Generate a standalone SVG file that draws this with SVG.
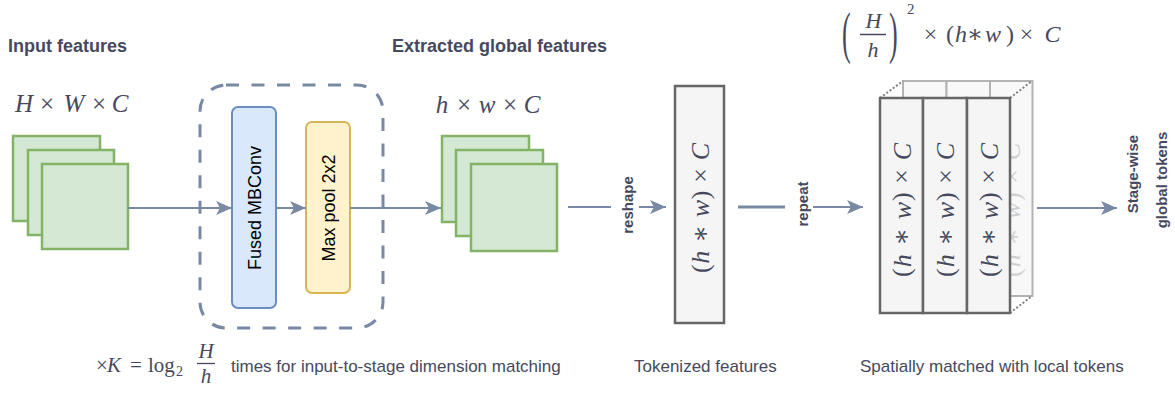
<svg xmlns="http://www.w3.org/2000/svg" width="1175" height="394" viewBox="0 0 1175 394">
<defs>
<style>
.conn{stroke:#788AA3;stroke-width:2;fill:none}
.lbl{font-family:"Liberation Sans",Arial,sans-serif;fill:#46495D}
.title{font-family:"Liberation Sans",Arial,sans-serif;fill:#46495D;font-weight:bold;font-size:18px}
.math{font-family:"Liberation Serif","DejaVu Serif",serif;fill:#46495D}
.it{font-style:italic}
.feat{fill:#d5e8d4;stroke:#82b366;stroke-width:2.5}
.tok{fill:#f5f5f5;stroke:#666666;stroke-width:2.5}
.tokback{fill:#f8f8f8;stroke:#b3b3b3;stroke-width:2}
.dots{stroke:#808080;stroke-width:2;stroke-dasharray:2 2;fill:none}
</style>
<marker id="arr" viewBox="0 0 16 14" refX="16" refY="7" markerWidth="16" markerHeight="14" markerUnits="userSpaceOnUse" orient="auto">
<path d="M0,0 L16,7 L0,14 L4,7 Z" fill="#788AA3"/>
</marker>
</defs>
<rect width="1175" height="394" fill="#ffffff"/>

<g id="titles">
<text class="title" x="8" y="52">Input features</text>
<text class="title" x="392" y="52">Extracted global features</text>
</g>

<g id="input-features">
<rect class="feat" x="13" y="136" width="87" height="85"/>
<rect class="feat" x="28" y="150" width="86" height="85"/>
<rect class="feat" x="42" y="164" width="86" height="85"/>
<text class="math" font-size="25" y="112" text-anchor="middle"><tspan class="it" x="24">H</tspan><tspan x="47">×</tspan><tspan class="it" x="74">W</tspan><tspan x="99">×</tspan><tspan class="it" x="120">C</tspan></text>
</g>

<g id="loop-box">
<rect x="200" y="85" width="183" height="243" rx="26" fill="none" stroke="#788AA3" stroke-width="3" stroke-dasharray="13 12.5"/>
</g>

<g id="fused-mbconv">
<rect x="232" y="107" width="44" height="201" rx="6" fill="#dae8fc" stroke="#6c8ebf" stroke-width="2"/>
<text class="lbl" font-size="18" style="fill:#000" text-anchor="middle" dominant-baseline="central" transform="translate(255,208) rotate(-90)">Fused MBConv</text>
</g>

<g id="max-pool">
<rect x="306" y="122" width="44" height="171" rx="6" fill="#fff2cc" stroke="#d6b656" stroke-width="2"/>
<text class="lbl" font-size="18" style="fill:#000" text-anchor="middle" dominant-baseline="central" transform="translate(329,208) rotate(-90)">Max pool 2x2</text>
</g>

<g id="extracted-features">
<rect class="feat" x="442" y="136" width="87" height="86"/>
<rect class="feat" x="456" y="150" width="87" height="86"/>
<rect class="feat" x="471" y="164" width="86" height="87"/>
<text class="math" font-size="25" y="113" text-anchor="middle"><tspan class="it" x="442">h</tspan><tspan x="464">×</tspan><tspan class="it" x="487">w</tspan><tspan x="510">×</tspan><tspan class="it" x="532">C</tspan></text>
</g>

<g id="tokenized">
<rect class="tok" x="675" y="86" width="49" height="237"/>
<text class="math" font-size="26" text-anchor="middle" dominant-baseline="central" transform="translate(700,208) rotate(-90)" textLength="130" lengthAdjust="spacing">(<tspan class="it">h</tspan> ∗ <tspan class="it">w</tspan>) × <tspan class="it">C</tspan></text>
</g>

<g id="repeated-tokens">
<rect class="tokback" x="903" y="81" width="43.5" height="215"/>
<rect class="tokback" x="946.5" y="81" width="43.5" height="215"/>
<rect class="tokback" x="990" y="81" width="42.5" height="215"/>
<text class="math" font-size="26" style="fill:#d0d0d0" text-anchor="middle" dominant-baseline="central" transform="translate(1011,210) rotate(-90)" textLength="134" lengthAdjust="spacing">(<tspan class="it">h</tspan> ∗ <tspan class="it">w</tspan>) × <tspan class="it">C</tspan></text>
<line class="dots" x1="880" y1="98" x2="903" y2="81"/>
<line class="dots" x1="1010" y1="98" x2="1032" y2="81"/>
<line class="dots" x1="1010" y1="313" x2="1032" y2="296"/>
<rect class="tok" x="880" y="98" width="43" height="215"/>
<rect class="tok" x="923" y="98" width="44" height="215"/>
<rect class="tok" x="967" y="98" width="43" height="215"/>
<text class="math" font-size="26" text-anchor="middle" dominant-baseline="central" transform="translate(901.5,210) rotate(-90)" textLength="134" lengthAdjust="spacing">(<tspan class="it">h</tspan> ∗ <tspan class="it">w</tspan>) × <tspan class="it">C</tspan></text>
<text class="math" font-size="26" text-anchor="middle" dominant-baseline="central" transform="translate(945,210) rotate(-90)" textLength="134" lengthAdjust="spacing">(<tspan class="it">h</tspan> ∗ <tspan class="it">w</tspan>) × <tspan class="it">C</tspan></text>
<text class="math" font-size="26" text-anchor="middle" dominant-baseline="central" transform="translate(988.5,210) rotate(-90)" textLength="134" lengthAdjust="spacing">(<tspan class="it">h</tspan> ∗ <tspan class="it">w</tspan>) × <tspan class="it">C</tspan></text>
</g>

<g id="top-formula" class="math">
<text font-size="26" transform="translate(842,52) scale(1,2.2)">(</text>
<text font-size="22" class="it" x="873.5" y="28" text-anchor="middle">H</text>
<line x1="860" y1="34.5" x2="886" y2="34.5" stroke="#46495D" stroke-width="1.5"/>
<text font-size="22" class="it" x="873" y="57" text-anchor="middle">h</text>
<text font-size="26" transform="translate(889,52) scale(1,2.2)">)</text>
<text font-size="15" x="907" y="14">2</text>
<text font-size="24" y="42" text-anchor="middle"><tspan x="930.5">×</tspan><tspan x="950">(</tspan><tspan class="it" x="961">h</tspan><tspan x="975">∗</tspan><tspan class="it" x="993">w</tspan><tspan x="1010">)</tspan><tspan x="1026.5">×</tspan><tspan class="it" x="1052.5">C</tspan></text>
</g>

<g id="bottom-caption">
<text class="math" font-size="21" y="372"><tspan x="96">×</tspan><tspan class="it" x="107">K</tspan><tspan x="130">=</tspan><tspan x="148">log</tspan></text>
<text class="math" font-size="14" x="176" y="376">2</text>
<text class="math it" font-size="21" x="206" y="358" text-anchor="middle">H</text>
<line x1="197" y1="363.5" x2="215" y2="363.5" stroke="#46495D" stroke-width="1.3"/>
<text class="math it" font-size="21" x="206" y="383" text-anchor="middle">h</text>
<text class="lbl" font-size="17" x="231" y="372">times for input-to-stage dimension matching</text>
</g>

<g id="captions">
<text class="lbl" font-size="17" x="634" y="372">Tokenized features</text>
<text class="lbl" font-size="17" x="860" y="372">Spatially matched with local tokens</text>
</g>

<g id="output-label">
<text class="lbl" font-size="15" font-weight="bold" text-anchor="middle" dominant-baseline="central" transform="translate(1132,174) rotate(-90)">Stage-wise</text>
<text class="lbl" font-size="15" font-weight="bold" text-anchor="middle" dominant-baseline="central" transform="translate(1161,180) rotate(-90)">global tokens</text>
</g>

<g id="connectors">
<line class="conn" x1="128" y1="208" x2="232" y2="208" marker-end="url(#arr)"/>
<line class="conn" x1="276" y1="208" x2="306" y2="208" marker-end="url(#arr)"/>
<line class="conn" x1="350" y1="208" x2="441" y2="208" marker-end="url(#arr)"/>
<line class="conn" x1="568" y1="207" x2="611" y2="207"/>
<line class="conn" x1="639" y1="207" x2="666" y2="207" marker-end="url(#arr)"/>
<text class="lbl" font-size="15" font-weight="bold" text-anchor="middle" dominant-baseline="central" transform="translate(627,205) rotate(-90)">reshape</text>
<line class="conn" x1="738" y1="207" x2="785" y2="207" style="stroke-width:3"/>
<line class="conn" x1="813" y1="207" x2="863" y2="207" marker-end="url(#arr)"/>
<text class="lbl" font-size="15" font-weight="bold" text-anchor="middle" dominant-baseline="central" transform="translate(802,204) rotate(-90)">repeat</text>
<line class="conn" x1="1037" y1="208" x2="1117" y2="208" marker-end="url(#arr)"/>
</g>
</svg>
